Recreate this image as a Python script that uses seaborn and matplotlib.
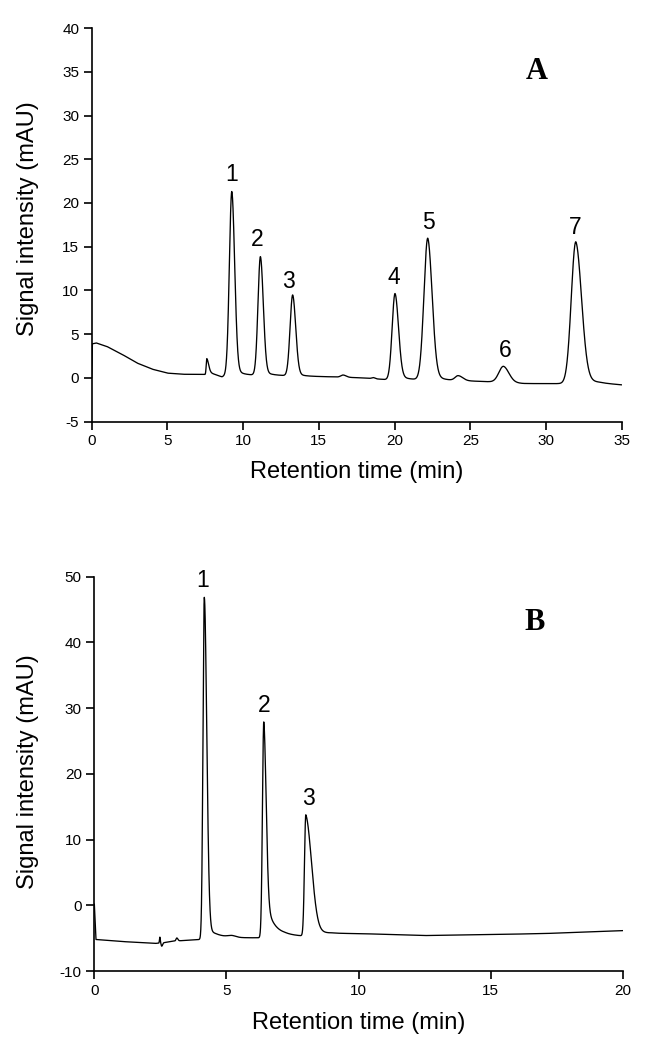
import numpy as np
import pandas as pd
import matplotlib
matplotlib.use("Agg")
import matplotlib.pyplot as plt
import seaborn as sns

# ---- panel A: peaks (time, height above baseline, left/right width, tail) ----
a_rt = [7.6, 9.25, 11.14, 13.27, 16.6, 18.6, 20.03, 22.19, 24.2, 27.19, 31.97]
a_h = [1.85, 21.0, 13.55, 9.25, 0.25, 0.12, 9.85, 16.2, 0.55, 1.85, 16.2]
a_sl = [0.04, 0.16, 0.16, 0.17, 0.15, 0.1, 0.19, 0.25, 0.2, 0.3, 0.3]
a_sr = [0.12, 0.19, 0.19, 0.2, 0.2, 0.1, 0.23, 0.29, 0.3, 0.36, 0.38]
a_tf = [0.3, 0.06, 0.06, 0.06, 0.0, 0.0, 0.08, 0.08, 0.0, 0.1, 0.1]
a_tau = [0.4, 0.4, 0.4, 0.4, 0.4, 0.4, 0.5, 0.5, 0.5, 0.6, 0.6]
a_labels = ["1", "2", "3", "4", "5", "6", "7"]
a_label_x = [9.25, 10.9, 13.0, 19.95, 22.25, 27.3, 31.9]
a_label_y = [23.3, 15.8, 11.0, 11.5, 17.8, 3.1, 17.2]
a_base_t = [0, 0.04, 0.3, 1, 2, 3, 4, 5, 6, 7.4, 8.2, 8.6, 8.9, 10, 12, 14, 16, 18,
            19.5, 21, 23, 25, 26.5, 28.5, 31, 33.5, 35]
a_base_y = [0.0, 3.9, 4.0, 3.6, 2.7, 1.7, 1.0, 0.55, 0.42, 0.4, 0.25, 0.08, 0.3, 0.32,
            0.3, 0.2, 0.12, 0.0, -0.2, -0.2, -0.25, -0.35, -0.45, -0.65, -0.65, -0.6, -0.8]

# ---- panel B ----
b_rt = [2.48, 2.55, 3.12, 4.16, 5.2, 6.41, 8.0]
b_h = [0.9, -0.5, 0.45, 52.0, 0.25, 32.8, 18.4]
b_sl = [0.015, 0.02, 0.03, 0.05, 0.15, 0.05, 0.05]
b_sr = [0.015, 0.03, 0.04, 0.093, 0.15, 0.09, 0.22]
b_tf = [0.0, 0.0, 0.0, 0.04, 0.0, 0.22, 0.14]
b_tau = [0.3, 0.3, 0.3, 0.4, 0.3, 0.3, 0.32]
b_labels = ["1", "2", "3"]
b_label_x = [4.1, 6.42, 8.1]
b_label_y = [49.4, 30.4, 16.2]
b_base_t = [0, 0.06, 1, 2.3, 2.6, 3, 4.0, 4.6, 6.3, 7.2, 7.9, 9.0, 10, 12.5, 15, 17, 20]
b_base_y = [0.2, -5.2, -5.5, -5.8, -5.7, -5.45, -5.2, -5.0, -4.95, -4.6, -4.7,
            -4.3, -4.3, -4.6, -4.45, -4.3, -3.85]


def trace(t, base_t, base_y, rt, h, sl, sr, tf, tau):
    y = np.interp(t, base_t, base_y)
    for r, hh, s1, s2, f, ta in zip(rt, h, sl, sr, tf, tau):
        dt = t - r
        left = np.exp(-0.5 * (dt / s1) ** 2)
        right = (1 - f) * np.exp(-0.5 * (dt / s2) ** 2) + f * np.exp(-np.clip(dt, 0, None) / ta)
        y = y + hh * np.where(dt < 0, left, right)
    return y


ta = np.linspace(0, 35, 7001)
tb = np.linspace(0, 20, 6001)
df_a = pd.DataFrame({"time": ta, "signal": trace(ta, a_base_t, a_base_y, a_rt, a_h, a_sl, a_sr, a_tf, a_tau)})
df_b = pd.DataFrame({"time": tb, "signal": trace(tb, b_base_t, b_base_y, b_rt, b_h, b_sl, b_sr, b_tf, b_tau)})

sns.set_style("ticks")
plt.rcParams["font.family"] = ["Liberation Sans", "DejaVu Sans"]
plt.rcParams["axes.unicode_minus"] = False
plt.rcParams["axes.linewidth"] = 1.2
plt.rcParams["axes.edgecolor"] = "black"
plt.rcParams["text.color"] = "black"
plt.rcParams["axes.labelcolor"] = "black"
plt.rcParams["xtick.color"] = "black"
plt.rcParams["ytick.color"] = "black"
plt.rcParams["xtick.major.width"] = 1.2
plt.rcParams["ytick.major.width"] = 1.2
plt.rcParams["xtick.major.size"] = 6
plt.rcParams["ytick.major.size"] = 6

fig = plt.figure(figsize=(6.51, 10.5), dpi=100)
ax_a = fig.add_axes([0.1409, 0.5984, 0.8141, 0.3749])
ax_b = fig.add_axes([0.1449, 0.0752, 0.8121, 0.3756])

sns.lineplot(data=df_a, x="time", y="signal", ax=ax_a, color="black", lw=0.95, estimator=None)
sns.lineplot(data=df_b, x="time", y="signal", ax=ax_b, color="black", lw=0.95, estimator=None)

ax_a.set_xlim(0, 35)
ax_a.set_ylim(-5, 40)
ax_a.set_xticks(range(0, 36, 5))
ax_a.set_yticks(range(-5, 41, 5))
ax_b.set_xlim(0, 20)
ax_b.set_ylim(-10, 50)
ax_b.set_xticks(range(0, 21, 5))
ax_b.set_yticks(range(-10, 51, 10))

for ax, lab, lx, ly, letter, pos in [
    (ax_a, a_labels, a_label_x, a_label_y, "A", (29.4, 35.0)),
    (ax_b, b_labels, b_label_x, b_label_y, "B", (16.67, 43.1)),
]:
    sns.despine(ax=ax)
    ax.tick_params(labelsize=11, pad=3)
    ax.set_xlabel("Retention time (min)", fontsize=17)
    ax.set_ylabel("Signal intensity (mAU)", fontsize=17)
    for s, x, y in zip(lab, lx, ly):
        ax.text(x, y, s, fontsize=16.5, ha="center", va="center")
    ax.text(pos[0], pos[1], letter, fontsize=22, fontweight="bold",
            family="Liberation Serif", ha="center", va="center")

ax_a.yaxis.set_label_coords(-0.1, 0.515)
ax_a.xaxis.set_label_coords(0.5, -0.1)
ax_b.yaxis.set_label_coords(-0.105, 0.505)
ax_b.xaxis.set_label_coords(0.5, -0.105)

fig.savefig("out.png", dpi=100)
